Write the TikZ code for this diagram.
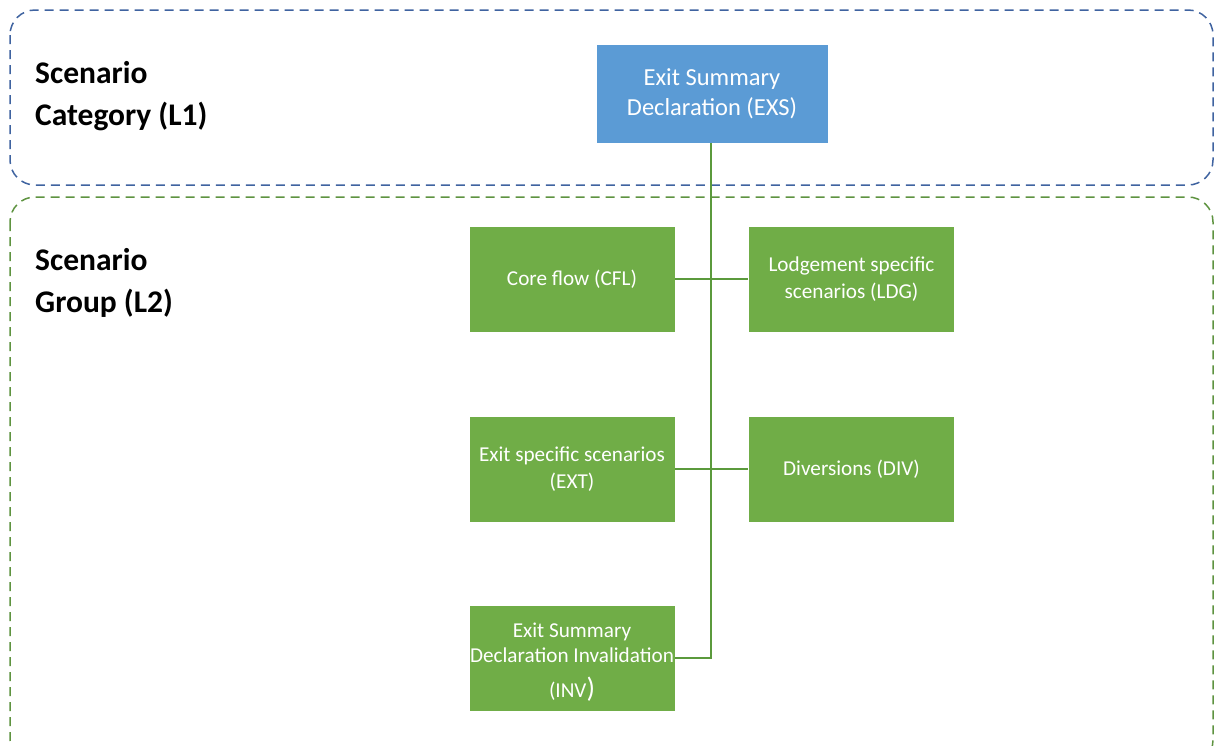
\documentclass[tikz,border=0pt]{standalone}
\usepackage{fontspec}
\setmainfont{Carlito}
\definecolor{boxblue}{HTML}{5B9BD5}
\definecolor{boxgreen}{HTML}{70AD47}
\definecolor{linegreen}{HTML}{5B9A3C}
\definecolor{dashblue}{HTML}{3F63A0}
\definecolor{dashgreen}{HTML}{5E9340}
\begin{document}
\begin{tikzpicture}[x=1pt,y=-1pt,
  bluebox/.style={rectangle, fill=boxblue, draw=white, line width=0.8pt, text=white,
    minimum width=232pt, minimum height=99pt, align=center, inner sep=2pt,
    font=\fontsize{24.5}{30}\selectfont},
  greenbox/.style={rectangle, fill=boxgreen, draw=white, line width=0.8pt, text=white,
    minimum width=206pt, minimum height=106pt, align=center, inner sep=2pt,
    font=\fontsize{21.2}{27}\selectfont},
  conn/.style={draw=linegreen, line width=2pt},
  region/.style={rounded corners=25pt, line width=1.5pt, dash pattern=on 9pt off 6pt},
  level/.style={anchor=base west, align=left, font=\bfseries\fontsize{31.5}{42}\selectfont, inner sep=0pt}
]
\useasboundingbox (0,0) rectangle (1215,745);
\clip (0,0) rectangle (1215,745);
\draw[region, draw=dashblue] (10,10) rectangle (1213,185);
\draw[region, draw=dashgreen] (10,197) rectangle (1213,765);
\node[level] (L1a) at (35,83) {Scenario};
\node[level] (L1b) at (35,125) {Category (L1)};
\node[level] (L2a) at (35,270) {Scenario};
\node[level] (L2b) at (35,312) {Group (L2)};
\node[bluebox] (EXS) at (712,93.5) {Exit Summary\\Declaration (EXS)};
\node[greenbox] (CFL) at (572,279) {Core flow (CFL)};
\node[greenbox] (LDG) at (851.5,279) {Lodgement specific\\scenarios (LDG)};
\node[greenbox] (EXT) at (572,469) {Exit specific scenarios\\(EXT)};
\node[greenbox, inner xsep=0pt, font=\fontsize{21.2}{25}\selectfont] (INV) at (572,658) {\rule{0pt}{22pt}Exit Summary\\Declaration Invalidation\\[10pt](INV{\fontsize{28}{28}\selectfont)}};
\node[greenbox] (DIV) at (851.5,469) {Diversions (DIV)};
\coordinate (turn) at ([xshift=-1pt]EXS.south |- INV.east);
\draw[conn] ([xshift=-1pt]EXS.south) -- (turn) -- (INV.east);
\draw[conn] (CFL.east) -- (LDG.west);
\draw[conn] (EXT.east) -- (DIV.west);
\end{tikzpicture}
\end{document}
